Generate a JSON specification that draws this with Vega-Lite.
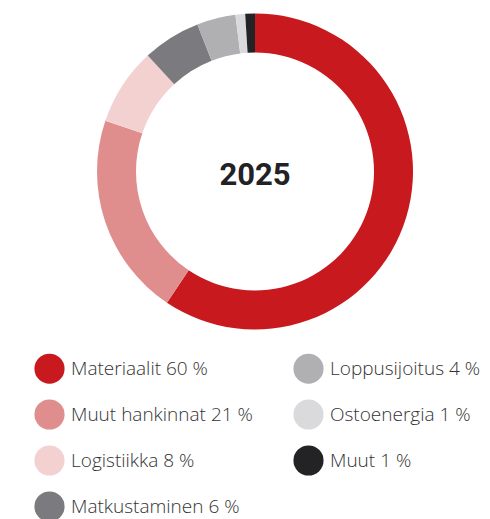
{
  "$schema": "https://vega.github.io/schema/vega-lite/v6.json",
  "width": 470,
  "height": 343,
  "autosize": "none",
  "padding": {"left": 20, "top": 0, "right": 0, "bottom": 176},
  "background": "white",
  "config": {"view": {"stroke": null}},
  "layer": [
    {
      "data": {
        "values": [
          {"name": "Materiaalit 60 %", "value": 60, "order": 1},
          {"name": "Muut hankinnat 21 %", "value": 21, "order": 2},
          {"name": "Logistiikka 8 %", "value": 8, "order": 3},
          {"name": "Matkustaminen 6 %", "value": 6, "order": 4},
          {"name": "Loppusijoitus 4 %", "value": 4, "order": 5},
          {"name": "Ostoenergia 1 %", "value": 1, "order": 6},
          {"name": "Muut 1 %", "value": 1, "order": 7}
        ]
      },
      "mark": {"type": "arc", "outerRadius": 158, "innerRadius": 119},
      "encoding": {
        "theta": {"field": "value", "type": "quantitative", "stack": true},
        "order": {"field": "order", "type": "quantitative"},
        "color": {
          "field": "name",
          "type": "nominal",
          "scale": {
            "domain": ["Materiaalit 60 %", "Muut hankinnat 21 %", "Logistiikka 8 %", "Matkustaminen 6 %", "Loppusijoitus 4 %", "Ostoenergia 1 %", "Muut 1 %"],
            "range": ["#C8191E", "#E08D8E", "#F3D1D1", "#7B7B7F", "#B0B0B2", "#DADADC", "#232326"]
          },
          "legend": {
            "title": null,
            "orient": "none",
            "legendX": 14,
            "legendY": 353,
            "columns": 2,
            "columnPadding": 40,
            "rowPadding": 15,
            "symbolType": "circle",
            "symbolSize": 908,
            "symbolStrokeWidth": 0,
            "labelOffset": 6,
            "labelFont": "Open Sans",
            "labelFontSize": 19,
            "labelFontWeight": 300,
            "labelColor": "#333333",
            "labelLimit": 300,
            "padding": 0
          }
        }
      }
    },
    {
      "data": {"values": [{"t": "2025"}]},
      "mark": {"type": "text", "font": "Roboto", "fontWeight": "bold", "fontSize": 31, "color": "#222226", "baseline": "middle", "align": "center", "dy": 4},
      "encoding": {"text": {"field": "t", "type": "nominal"}}
    }
  ]
}
